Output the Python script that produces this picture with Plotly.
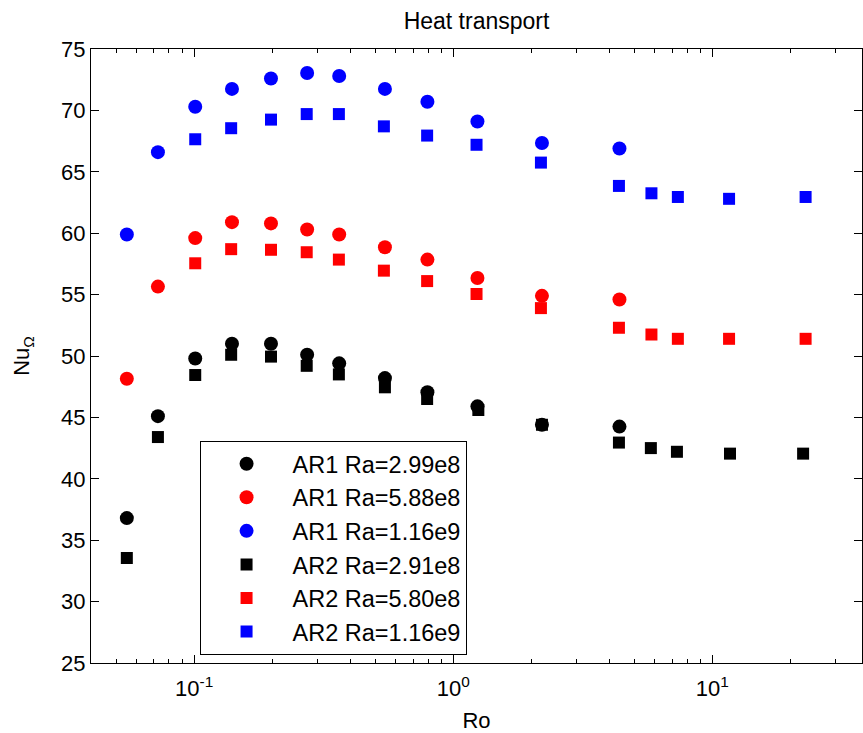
import plotly.graph_objects as go

# ---- data ----
ro_ar1 = [0.055, 0.0725, 0.101, 0.140, 0.198, 0.273, 0.363, 0.545, 0.795, 1.24, 2.20, 4.38]
nu_ar1_299e8 = [36.8, 45.1, 49.8, 51.0, 51.0, 50.1, 49.4, 48.2, 47.05, 45.9, 44.4, 44.25]
nu_ar1_588e8 = [48.15, 55.65, 59.6, 60.9, 60.8, 60.3, 59.9, 58.85, 57.85, 56.35, 54.9, 54.6]
nu_ar1_116e9 = [59.9, 66.6, 70.3, 71.75, 72.6, 73.05, 72.8, 71.75, 70.7, 69.1, 67.35, 66.9]

ro_ar2_291e8 = [0.055, 0.0725, 0.101, 0.139, 0.198, 0.272, 0.362, 0.545, 0.793, 1.25, 2.20, 4.36, 5.79, 7.3, 11.7, 22.4]
nu_ar2_291e8 = [33.55, 43.4, 48.45, 50.1, 49.95, 49.2, 48.5, 47.45, 46.5, 45.6, 44.4, 42.95, 42.5, 42.2, 42.05, 42.05]
ro_ar2 = [0.101, 0.139, 0.198, 0.272, 0.362, 0.540, 0.793, 1.23, 2.18, 4.36, 5.82, 7.36, 11.6, 22.9]
nu_ar2_580e8 = [57.55, 58.7, 58.65, 58.45, 57.85, 56.95, 56.1, 55.05, 53.9, 52.3, 51.75, 51.4, 51.4, 51.4]
nu_ar2_116e9 = [67.65, 68.55, 69.25, 69.7, 69.7, 68.7, 67.95, 67.2, 65.75, 63.85, 63.25, 62.95, 62.8, 62.95]

x_tickvals = [0.1, 1, 10]
x_ticktext = ["10<sup>-1</sup>", "10<sup>0</sup>", "10<sup>1</sup>"]
x_minor = [0.04, 0.05, 0.06, 0.07, 0.08, 0.09, 0.2, 0.3, 0.4, 0.5, 0.6, 0.7, 0.8, 0.9,
           2, 3, 4, 5, 6, 7, 8, 9, 20, 30]

FONT = "Liberation Sans, Arial, Helvetica, sans-serif"

fig = go.Figure()

series = [
    ("AR1 Ra=2.99e8", ro_ar1, nu_ar1_299e8, "circle", "#000000", 14),
    ("AR1 Ra=5.88e8", ro_ar1, nu_ar1_588e8, "circle", "#ff0000", 14),
    ("AR1 Ra=1.16e9", ro_ar1, nu_ar1_116e9, "circle", "#0000ff", 14),
    ("AR2 Ra=2.91e8", ro_ar2_291e8, nu_ar2_291e8, "square", "#000000", 12),
    ("AR2 Ra=5.80e8", ro_ar2, nu_ar2_580e8, "square", "#ff0000", 12),
    ("AR2 Ra=1.16e9", ro_ar2, nu_ar2_116e9, "square", "#0000ff", 12),
]
for i, (name, xs, ys, sym, col, sz) in enumerate(series):
    fig.add_trace(go.Scatter(
        x=xs, y=ys, mode="markers", name=name, legendgroup=f"g{i}",
        marker=dict(symbol=sym, color=col, size=sz, line=dict(width=0)),
    ))

fig.update_layout(
    width=863, height=733,
    paper_bgcolor="white", plot_bgcolor="white",
    margin=dict(l=91, r=1, t=49, b=70),
    font=dict(family=FONT, size=22, color="black"),
    title=dict(text="Heat transport", x=0.5, xref="paper", xanchor="center",
               y=1 - 21 / 733, yref="container", yanchor="middle",
               font=dict(size=23, family=FONT, color="black")),
    legend=dict(
        x=0.1408, y=0.3616, xanchor="left", yanchor="top",
        bgcolor="white", bordercolor="black", borderwidth=1,
        font=dict(size=23.5, family=FONT, color="black"),
        itemwidth=82, tracegroupgap=0,
    ),
    showlegend=True,
)

fig.update_xaxes(
    type="log", range=[-1.3979, 1.5775],
    tickmode="array", tickvals=x_tickvals, ticktext=x_ticktext,
    ticks="inside", ticklen=8, tickwidth=1, tickcolor="black",
    minor=dict(tickmode="array", tickvals=x_minor, ticks="inside", ticklen=4,
               tickwidth=1, tickcolor="black", showgrid=False),
    showline=True, linecolor="black", linewidth=1, mirror="allticks",
    showgrid=False, zeroline=False, ticklabelstandoff=6,
    title=dict(text="Ro", standoff=14, font=dict(size=22, family=FONT)),
    tickfont=dict(size=22, family=FONT),
)
fig.update_yaxes(
    range=[25, 75], tickmode="linear", tick0=25, dtick=5,
    ticks="inside", ticklen=8, tickwidth=1, tickcolor="black",
    showline=True, linecolor="black", linewidth=1, mirror="allticks",
    showgrid=False, zeroline=False,
    title=dict(text="Nu<sub>Ω</sub>", standoff=25, font=dict(size=22, family=FONT)),
    tickfont=dict(size=22, family=FONT),
)

fig.write_html("out.html")
